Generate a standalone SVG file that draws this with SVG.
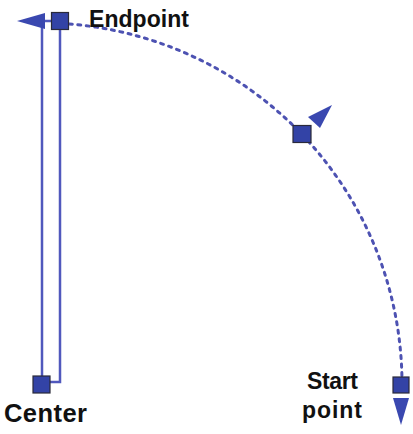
<svg xmlns="http://www.w3.org/2000/svg" width="413" height="434" viewBox="0 0 413 434">
<style>
.ln{fill:none;stroke:#5058bd;stroke-width:2.5}
.arc{fill:none;stroke:#4d52b2;stroke-width:3;stroke-dasharray:3 5.5;stroke-linecap:round}
.sq{fill:#3343a6;stroke:#2a2a3a;stroke-width:1.2}
.ah{fill:#3a48b0}
.lbl{font-family:"Liberation Sans",Arial,sans-serif;font-weight:bold;font-size:23px;fill:#111}
</style>
<rect width="413" height="434" fill="#fff"/>
<g id="connectors">
<path class="arc" d="M402 384 A361 361 0 0 0 62 23.5"/>
<path class="ln" d="M42 21 V382 H60 V21 Z"/>
<polygon class="ah" points="17,21 45,13 45,29"/>
<polygon class="ah" points="393,398 409,398 401,425"/>
<polygon class="ah" points="332,105 308,117 320,128"/>
</g>
<g id="endpoint">
<rect class="sq" x="51.5" y="12.5" width="17" height="17"/>
<text class="lbl" x="89" y="27" textLength="100">Endpoint</text>
</g>
<g id="center">
<rect class="sq" x="33" y="376" width="17" height="17"/>
<text class="lbl" x="4" y="422" style="font-size:25.5px" textLength="83">Center</text>
</g>
<g id="midpoint">
<rect class="sq" x="293" y="125.5" width="18" height="17"/>
</g>
<g id="startpoint">
<rect class="sq" x="393" y="377" width="16" height="16"/>
<text class="lbl" x="307" y="389" textLength="51">Start</text>
<text class="lbl" x="302" y="418" textLength="60">point</text>
</g>
</svg>
